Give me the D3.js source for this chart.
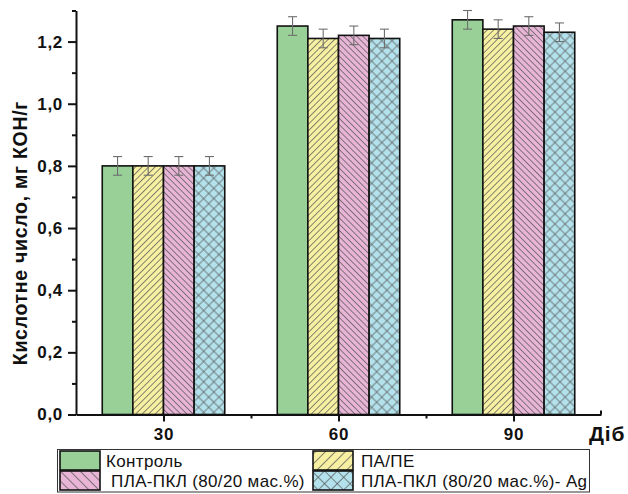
<!DOCTYPE html>
<html><head><meta charset="utf-8">
<script src="https://cdn.jsdelivr.net/npm/d3@7"></script>
<style>body{margin:0;background:#fff}svg{display:block}text{font-family:"Liberation Sans",Arial,sans-serif}</style>
</head><body>
<svg id="c" width="628" height="494"></svg>
<script>
const categories = ["30", "60", "90"];
const seriesNames = ["Контроль", "ПА/ПЕ", " ПЛА-ПКЛ (80/20 мас.%)", "ПЛА-ПКЛ (80/20 мас.%)- Ag"];
const kontrol = [0.80, 1.25, 1.27];
const paPe = [0.80, 1.21, 1.24];
const plaPkl = [0.80, 1.22, 1.25];
const plaPklAg = [0.80, 1.21, 1.23];
const errKontrol = [0.03, 0.03, 0.03];
const errPaPe = [0.03, 0.03, 0.03];
const errPlaPkl = [0.03, 0.03, 0.03];
const errPlaPklAg = [0.03, 0.03, 0.03];
const yTicks = [0, 0.2, 0.4, 0.6, 0.8, 1.0, 1.2];
const yMinorTicks = [0.1, 0.3, 0.5, 0.7, 0.9, 1.1, 1.3];

const values = [kontrol, paPe, plaPkl, plaPklAg];
const errors = [errKontrol, errPaPe, errPlaPkl, errPlaPklAg];
const fills = ["#98d098", "#f7f0a2", "#e8b5d7", "#b3e2ec"];
const patKinds = ["none", "fwd", "back", "cross"];

const svg = d3.select("#c");
const defs = svg.append("defs");
function makePattern(id, kind, color, sp) {
  if (kind === "none") return;
  const p = defs.append("pattern").attr("id", id).attr("patternUnits", "userSpaceOnUse")
    .attr("width", sp).attr("height", sp);
  p.append("rect").attr("width", sp).attr("height", sp).attr("fill", color);
  const st = "#555", sw = 0.7;
  if (kind === "fwd" || kind === "back") {
    p.attr("patternTransform", kind === "fwd" ? "rotate(45)" : "rotate(-45)");
    p.append("line").attr("x1", sp/2).attr("y1", 0).attr("x2", sp/2).attr("y2", sp).attr("stroke", st).attr("stroke-width", sw);
  } else {
    p.attr("patternTransform", "rotate(45)");
    p.append("line").attr("x1", sp/2).attr("y1", 0).attr("x2", sp/2).attr("y2", sp).attr("stroke", st).attr("stroke-width", sw);
    p.append("line").attr("x1", 0).attr("y1", sp/2).attr("x2", sp).attr("y2", sp/2).attr("stroke", st).attr("stroke-width", sw);
  }
}
const barSp = [0, 4.6, 4.4, 7.2];
const legSp = [0, 7, 7, 9];
patKinds.forEach((k, i) => {
  makePattern("p" + i, k, fills[i], barSp[i]);
  makePattern("l" + i, k, fills[i], legSp[i]);
});
const fillOf = (i, pre) => patKinds[i] === "none" ? fills[i] : `url(#${pre}${i})`;

const x = d3.scaleLinear().domain([0.5, 3.5]).range([76, 601]);
const y = d3.scaleLinear().domain([0, 1.3]).range([414.5, 10.5]);
const groupW = 0.7, barW = groupW / 4;

// bars
const g = svg.append("g");
categories.forEach((c, ci) => {
  values.forEach((vals, si) => {
    const x0 = x(ci + 1 - groupW / 2 + si * barW);
    const x1 = x(ci + 1 - groupW / 2 + (si + 1) * barW);
    g.append("rect").attr("x", x0).attr("y", y(vals[ci]))
      .attr("width", x1 - x0).attr("height", y(0) - y(vals[ci]))
      .attr("fill", fillOf(si, "p")).attr("stroke", "#111").attr("stroke-width", 1.6);
  });
});
// error bars
categories.forEach((c, ci) => {
  values.forEach((vals, si) => {
    const cx = x(ci + 1 - groupW / 2 + (si + 0.5) * barW);
    const hi = y(vals[ci] + errors[si][ci]), lo = y(vals[ci] - errors[si][ci]);
    const eg = g.append("g").attr("stroke", "#6e6e6e").attr("stroke-width", 1.1);
    eg.append("line").attr("x1", cx).attr("x2", cx).attr("y1", hi).attr("y2", lo);
    eg.append("line").attr("x1", cx - 4.5).attr("x2", cx + 4.5).attr("y1", hi).attr("y2", hi);
    eg.append("line").attr("x1", cx - 4.5).attr("x2", cx + 4.5).attr("y1", lo).attr("y2", lo);
  });
});

// y axis
const fmt = v => d3.format(".1f")(v).replace(".", ",");
svg.append("g").attr("transform", `translate(${x(0.5)},0)`)
  .call(d3.axisLeft(y).tickValues(yTicks).tickFormat(fmt).tickSize(8).tickSizeOuter(0).tickPadding(5));
svg.append("g").attr("transform", `translate(${x(0.5)},0)`)
  .call(d3.axisLeft(y).tickValues(yMinorTicks).tickFormat("").tickSize(4).tickSizeOuter(0))
  .select(".domain").remove();
// x axis
svg.append("g").attr("transform", `translate(0,${y(0)})`)
  .call(d3.axisBottom(x).tickValues([1, 2, 3]).tickFormat(d => categories[d - 1]).tickSize(7).tickSizeOuter(0).tickPadding(6));
svg.append("g").attr("transform", `translate(0,${y(0)})`)
  .call(d3.axisBottom(x).tickValues([1.5, 2.5]).tickFormat("").tickSize(4).tickSizeOuter(0))
  .select(".domain").remove();
svg.append("line").attr("x1", x(3.5)).attr("x2", x(3.5)).attr("y1", y(0)).attr("y2", y(0) - 4)
  .attr("stroke", "#111").attr("stroke-width", 2);

svg.selectAll(".domain").attr("stroke", "#111").attr("stroke-width", 2);
svg.selectAll(".tick line").attr("stroke", "#111").attr("stroke-width", 2);
svg.selectAll(".tick text").attr("font-size", 17).attr("font-weight", "bold").attr("fill", "#111")
  .attr("letter-spacing", 0.7)
  .style("font-family", '"Liberation Sans",Arial,sans-serif');

// axis titles
svg.append("text").attr("transform", "translate(27,233) rotate(-90)").attr("text-anchor", "middle")
  .attr("font-size", 19.5).attr("font-weight", "bold").attr("fill", "#111").attr("letter-spacing", 0.7)
  .text("Кислотне число, мг КОН/г");
svg.append("text").attr("x", 589).attr("y", 441).attr("font-size", 21).attr("font-weight", "bold")
  .attr("fill", "#111").attr("letter-spacing", 0.8).text("Діб");

// legend
const lg = svg.append("g");
lg.append("rect").attr("x", 57.5).attr("y", 449.5).attr("width", 532).attr("height", 42.5)
  .attr("fill", "#fff").attr("stroke", "#333").attr("stroke-width", 1);
const legPos = [[59, 451, 106], [312, 451, 361], [59, 471, 106], [312, 471, 361]];
seriesNames.forEach((n, i) => {
  const [sx, sy, tx] = legPos[i];
  lg.append("rect").attr("x", sx + 1).attr("y", sy).attr("width", 40).attr("height", 19)
    .attr("fill", fillOf(i, "l")).attr("stroke", "#111").attr("stroke-width", 1.6);
  lg.append("text").attr("x", tx).attr("y", sy + 15.5).attr("font-size", 17).attr("fill", "#111")
    .attr("letter-spacing", 0.35).style("white-space", "pre").text(n);
});
</script>
</body></html>
